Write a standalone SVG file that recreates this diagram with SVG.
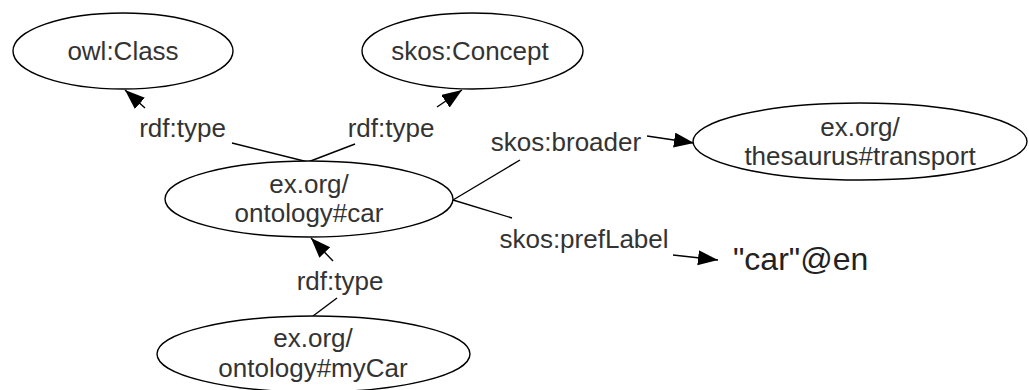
<svg xmlns="http://www.w3.org/2000/svg" width="1029" height="390" viewBox="0 0 1029 390">
  <style>
    .node ellipse { fill: #ffffff; stroke: #000000; stroke-width: 1.4; }
    .t { font-family: "Liberation Sans", Arial, sans-serif; font-size: 26px; fill: #333333; text-anchor: middle; }
    .lit { font-family: "Liberation Sans", Arial, sans-serif; font-size: 32px; fill: #222222; }
    .edge { fill: none; stroke: #000000; stroke-width: 1.4; }
  </style>
  <defs>
    <marker id="arrow" markerUnits="userSpaceOnUse" markerWidth="20" markerHeight="16" refX="20" refY="7.5" orient="auto">
      <path d="M0,0 L20,7.5 L0,15 z" fill="#000000"/>
    </marker>
  </defs>
  <rect width="1029" height="390" fill="#ffffff"/>

  <g id="connectors">
    <g id="e-car-owlclass">
      <line class="edge" x1="308" y1="162" x2="232" y2="143"/>
      <line class="edge" x1="145" y1="108" x2="125" y2="90" marker-end="url(#arrow)"/>
      <text class="t" x="182.5" y="137">rdf:type</text>
    </g>
    <g id="e-car-concept">
      <line class="edge" x1="308" y1="162" x2="355" y2="144"/>
      <line class="edge" x1="437" y1="107" x2="462" y2="90" marker-end="url(#arrow)"/>
      <text class="t" x="391" y="137">rdf:type</text>
    </g>
    <g id="e-car-transport">
      <line class="edge" x1="453" y1="200" x2="520" y2="160"/>
      <line class="edge" x1="647" y1="136" x2="694" y2="143" marker-end="url(#arrow)"/>
      <text class="t" x="566" y="151">skos:broader</text>
    </g>
    <g id="e-car-label">
      <line class="edge" x1="453" y1="200" x2="512" y2="218"/>
      <line class="edge" x1="673" y1="255" x2="718" y2="260" marker-end="url(#arrow)"/>
      <text class="t" x="584" y="248">skos:prefLabel</text>
    </g>
    <g id="e-mycar-car">
      <line class="edge" x1="313" y1="316" x2="337" y2="298"/>
      <line class="edge" x1="333" y1="261" x2="311" y2="238" marker-end="url(#arrow)"/>
      <text class="t" x="340" y="290">rdf:type</text>
    </g>
  </g>

  <g id="owlClass" class="node">
    <ellipse cx="123" cy="51" rx="110" ry="38"/>
    <text class="t" x="123" y="60">owl:Class</text>
  </g>
  <g id="skosConcept" class="node">
    <ellipse cx="472.5" cy="51" rx="110.5" ry="38"/>
    <text class="t" x="470" y="60">skos:Concept</text>
  </g>
  <g id="ontologyCar" class="node">
    <ellipse cx="309" cy="199" rx="144" ry="38"/>
    <text class="t" x="309" y="193">ex.org/</text>
    <text class="t" x="309" y="222">ontology#car</text>
  </g>
  <g id="thesaurusTransport" class="node">
    <ellipse cx="860" cy="141.5" rx="167" ry="38.5"/>
    <text class="t" x="860" y="136">ex.org/</text>
    <text class="t" x="860" y="165">thesaurus#transport</text>
  </g>
  <g id="ontologyMyCar" class="node">
    <ellipse cx="313.5" cy="354" rx="156.5" ry="38"/>
    <text class="t" x="313" y="347">ex.org/</text>
    <text class="t" x="313" y="377">ontology#myCar</text>
  </g>
  <g id="carEn">
    <text class="lit" x="733" y="270">"car"@en</text>
  </g>
</svg>
